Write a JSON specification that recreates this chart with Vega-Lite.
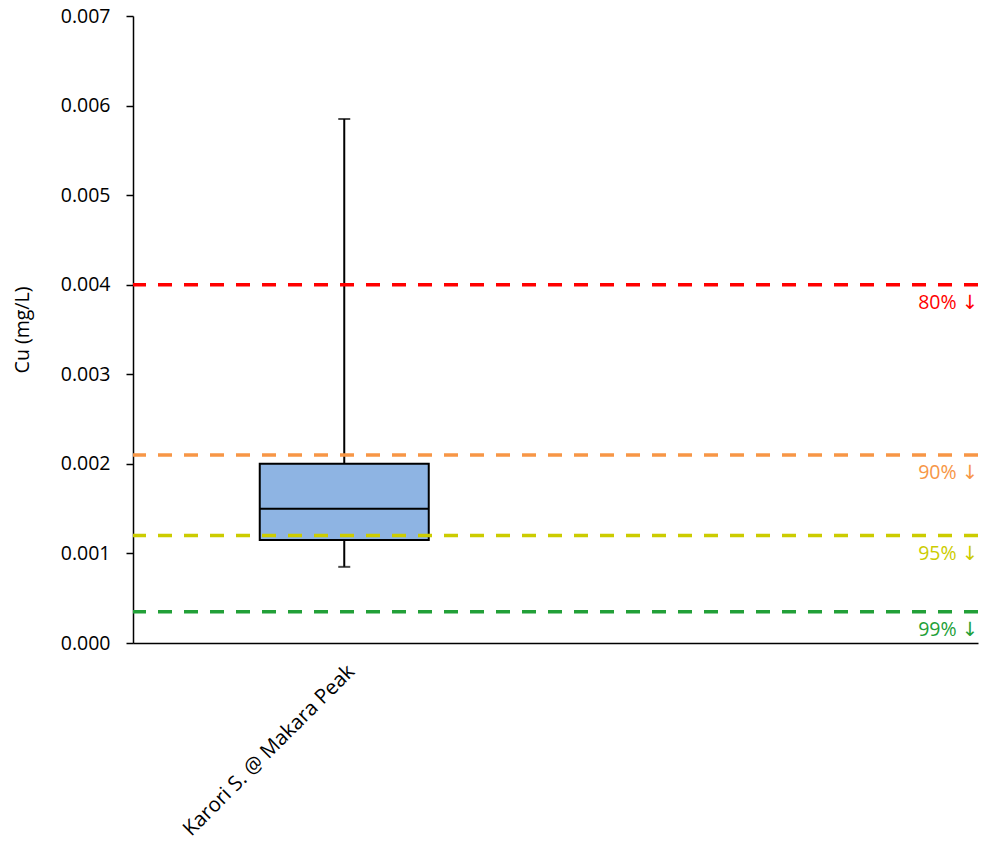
{
  "$schema": "https://vega.github.io/schema/vega-lite/v6.json",
  "width": 845,
  "height": 627,
  "autosize": "none",
  "padding": {"left": 133, "top": 16, "right": 8, "bottom": 218},
  "background": "white",
  "config": {
    "view": {"stroke": null},
    "font": "Open Sans",
    "axis": {"grid": false, "domainColor": "black", "domainWidth": 1.5, "tickColor": "black", "tickWidth": 1.5, "labelColor": "black", "titleColor": "black", "labelFont": "Open Sans", "titleFont": "Open Sans"}
  },
  "datasets": {
    "box": [
      {"site": "Karori S. @ Makara Peak", "min": 0.00085, "q1": 0.00115, "median": 0.0015, "q3": 0.002, "max": 0.00585}
    ],
    "thresholds": [
      {"level": "80% ↓", "value": 0.004},
      {"level": "90% ↓", "value": 0.0021},
      {"level": "95% ↓", "value": 0.0012},
      {"level": "99% ↓", "value": 0.00035}
    ]
  },
  "layer": [
    {
      "data": {"name": "box"},
      "mark": {"type": "rule", "color": "black", "strokeWidth": 2},
      "encoding": {
        "x": {"field": "site", "type": "nominal",
          "scale": {"domain": ["Karori S. @ Makara Peak", " "], "paddingInner": 0, "paddingOuter": 0},
          "axis": {"title": null, "ticks": false, "labelAngle": -45, "labelFontSize": 20.5, "labelPadding": 18, "labelLimit": 400}},
        "y": {"field": "min", "type": "quantitative",
          "scale": {"domain": [0, 0.007], "nice": false, "zero": true},
          "axis": {"title": "Cu (mg/L)", "values": [0, 0.001, 0.002, 0.003, 0.004, 0.005, 0.006, 0.007], "format": ".3f", "labelFontSize": 19.5, "titleFontSize": 19.5, "titleFontWeight": "normal", "tickSize": 7, "labelPadding": 16, "titlePadding": 28}},
        "y2": {"field": "max"}
      }
    },
    {
      "data": {"name": "box"},
      "mark": {"type": "bar", "fill": "#8EB4E3", "stroke": "black", "strokeWidth": 2, "width": {"band": 0.4}},
      "encoding": {
        "x": {"field": "site", "type": "nominal"},
        "y": {"field": "q1", "type": "quantitative"},
        "y2": {"field": "q3"}
      }
    },
    {
      "data": {"name": "box"},
      "mark": {"type": "bar", "fill": "black", "stroke": "black", "strokeWidth": 2, "width": {"band": 0.4}},
      "encoding": {
        "x": {"field": "site", "type": "nominal"},
        "y": {"field": "median", "type": "quantitative"},
        "y2": {"field": "median"}
      }
    },
    {
      "data": {"name": "box"},
      "mark": {"type": "tick", "color": "black", "thickness": 2, "size": 12},
      "encoding": {
        "x": {"field": "site", "type": "nominal"},
        "y": {"field": "max", "type": "quantitative"}
      }
    },
    {
      "data": {"name": "box"},
      "mark": {"type": "tick", "color": "black", "thickness": 2, "size": 12},
      "encoding": {
        "x": {"field": "site", "type": "nominal"},
        "y": {"field": "min", "type": "quantitative"}
      }
    },
    {
      "data": {"name": "thresholds"},
      "mark": {"type": "rule", "strokeWidth": 3.5, "strokeDash": [14, 12]},
      "encoding": {
        "y": {"field": "value", "type": "quantitative"},
        "color": {"field": "level", "type": "nominal", "legend": null,
          "scale": {"domain": ["80% ↓", "90% ↓", "95% ↓", "99% ↓"], "range": ["#FF0000", "#F79646", "#CCCC00", "#22A038"]}}
      }
    },
    {
      "data": {"name": "thresholds"},
      "mark": {"type": "text", "align": "right", "baseline": "middle", "dy": 18, "fontSize": 19.5, "font": "Open Sans, DejaVu Sans"},
      "encoding": {
        "x": {"datum": " ", "type": "nominal", "bandPosition": 1},
        "y": {"field": "value", "type": "quantitative"},
        "text": {"field": "level"},
        "color": {"field": "level", "type": "nominal", "legend": null}
      }
    }
  ]
}
